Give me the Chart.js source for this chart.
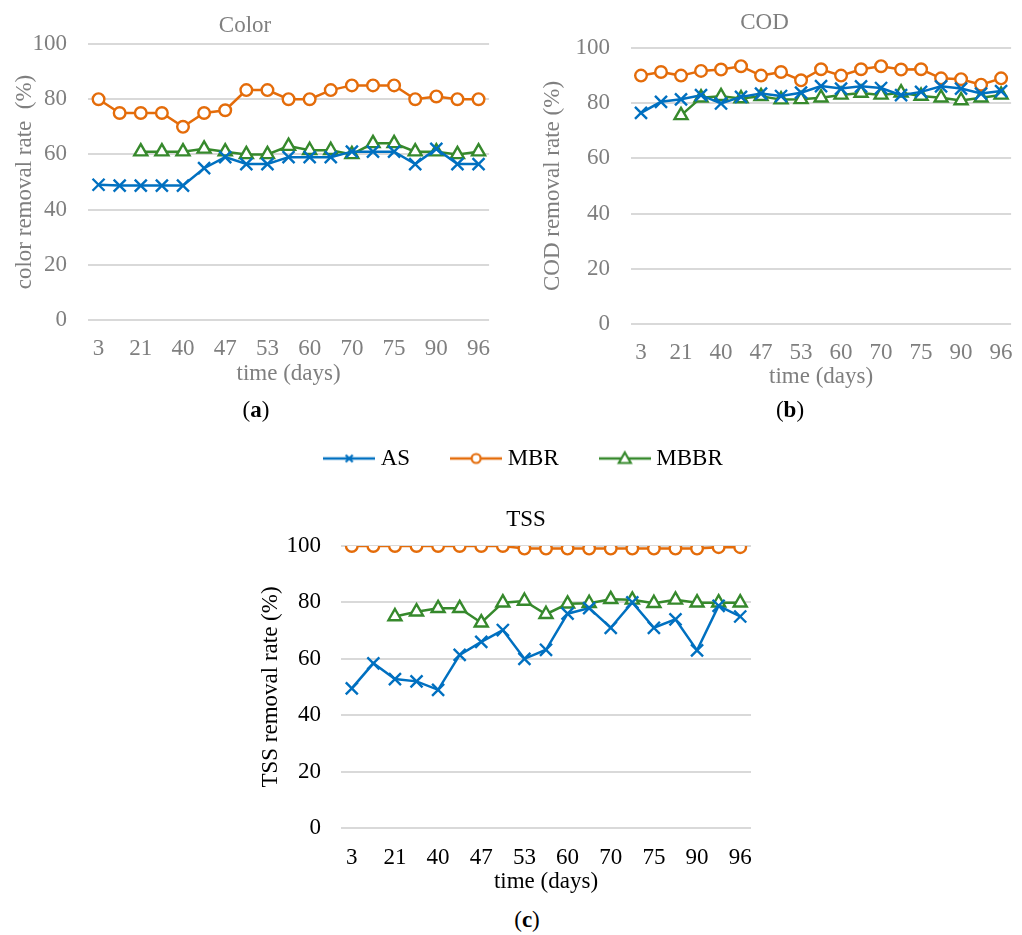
<!DOCTYPE html>
<html>
<head>
<meta charset="utf-8">
<script src="https://cdn.jsdelivr.net/npm/chart.js@4.4.0/dist/chart.umd.min.js"></script>
<style>
  body { margin: 0; background: #fff; width: 1022px; height: 935px; position: relative; overflow: hidden; font-family: "Liberation Serif", serif; }
  canvas { position: absolute; }
  .cap { position: absolute; font-size: 23px; color: #000; transform: translate(-50%, -50%); white-space: nowrap; }
</style>
</head>
<body>
<canvas id="chartA" width="500" height="400" style="left:0;top:0"></canvas>
<canvas id="chartB" width="512" height="405" style="left:510px;top:0"></canvas>
<canvas id="chartC" width="552" height="495" style="left:250px;top:401px"></canvas>
<div class="cap" style="left:256px;top:410px">(<b>a</b>)</div>
<div class="cap" style="left:790px;top:410px">(<b>b</b>)</div>
<div class="cap" style="left:527px;top:920px">(<b>c</b>)</div>
<script>
// sampling days (only every other one is labelled on the axis)
const days = ['3', '', '21', '', '40', '', '47', '', '53', '', '60', '', '70', '', '75', '', '90', '', '96'];
const seriesNames = ['AS', 'MBR', 'MBBR'];

const colorAS   = [49, 48.7, 48.7, 48.7, 48.7, 55, 59, 56.5, 56.5, 59, 59, 59, 61, 61, 61, 56.5, 62, 56.5, 56.5];
const colorMBR  = [80, 75, 75, 75, 70, 75, 76, 83.3, 83.3, 80, 80, 83.3, 85, 85, 85, 80, 81, 80, 80];
const colorMBBR = [null, null, 61, 61, 61, 62, 61, 60, 60, 63, 61.5, 61.5, 60, 64, 64, 61, 61, 60, 61];

const codAS   = [76.5, 80.5, 81.4, 82.9, 79.9, 82.3, 83.5, 82.6, 83.8, 86.2, 85.3, 86.1, 85.5, 82.9, 84.1, 86.1, 85.3, 83.5, 84.4];
const codMBR  = [90, 91.3, 90, 91.7, 92.2, 93.4, 90, 91.3, 88.3, 92.3, 90, 92.3, 93.4, 92.2, 92.3, 89, 88.7, 86.7, 89];
const codMBBR = [null, null, 75.6, 82, 82.5, 81.7, 82.5, 81.3, 81.4, 82, 83, 83.7, 83, 83.8, 82.6, 82, 81, 82, 83];

const tssAS   = [49.5, 58.4, 52.8, 52, 49, 61.4, 66, 70.2, 60, 63.2, 76, 78, 71, 80, 71, 74, 63, 78.8, 75];
const tssMBR  = [100, 100, 100, 100, 100, 100, 100, 100, 99.1, 99.1, 99.1, 99.1, 99.1, 99.1, 99.1, 99.1, 99.1, 99.6, 99.6];
const tssMBBR = [null, null, 75, 76.7, 77.9, 77.9, 72.8, 79.9, 80.5, 75.8, 79.5, 79.7, 81.1, 80.9, 79.7, 80.9, 79.9, 79.9, 79.9];

const yTicks = [0, 20, 40, 60, 80, 100];

const BLUE = '#0070c0', ORANGE = '#e46c0a', GREEN = '#36892c';
const GREY = '#7f7f7f';
const FONT = 'Liberation Serif';

const styles = [
  {color: BLUE, point: 'crossRot', radius: 8.5, fill: BLUE},
  {color: ORANGE, point: 'circle', radius: 5.8, fill: '#fff'},
  {color: GREEN, point: 'triangle', radius: 7.5, fill: '#fff'}
];

function datasets(values) {
  return values.map((v, i) => ({
    label: seriesNames[i],
    data: v,
    borderColor: styles[i].color,
    borderWidth: 2.5,
    pointStyle: styles[i].point,
    pointRadius: styles[i].radius,
    pointHoverRadius: styles[i].radius,
    pointBorderColor: styles[i].color,
    pointBackgroundColor: styles[i].fill,
    pointBorderWidth: 2.4,
    tension: 0
  }));
}

// legend icon: short line with the marker in the middle
function legendIcon(s) {
  const c = document.createElement('canvas');
  c.width = 52; c.height = 18;
  const g = c.getContext('2d');
  g.strokeStyle = s.color; g.lineWidth = 2.5;
  g.beginPath(); g.moveTo(0, 9); g.lineTo(52, 9); g.stroke();
  g.fillStyle = '#fff'; g.lineWidth = 2.2;
  g.beginPath();
  if (s.point === 'circle') {
    g.arc(26, 9, 4.5, 0, Math.PI * 2); g.fill(); g.stroke();
  } else if (s.point === 'triangle') {
    g.moveTo(26, 3); g.lineTo(32, 13.5); g.lineTo(20, 13.5); g.closePath(); g.fill(); g.stroke();
  } else {
    g.moveTo(22.5, 5.5); g.lineTo(29.5, 12.5); g.moveTo(29.5, 5.5); g.lineTo(22.5, 12.5); g.stroke();
  }
  return c;
}
const icons = styles.map(legendIcon);

function makeChart(id, o) {
  const scales = {
    x: {
      offset: true,
      grid: {display: false, drawTicks: false},
      border: {display: false},
      ticks: {autoSkip: false, maxRotation: 0, padding: o.xPad, color: o.text, font: {family: FONT, size: 23}},
      title: {display: true, text: 'time (days)', color: o.text, font: {family: FONT, size: 23}, padding: {top: 0, bottom: 0}},
      afterFit: s => { s.height = o.xH; s.paddingLeft = 0; s.paddingRight = 0; }
    },
    y: {
      min: 0, max: 100,
      afterBuildTicks: s => { s.ticks = yTicks.map(v => ({value: v})); },
      grid: {color: '#d9d9d9', lineWidth: 2, drawTicks: false},
      border: {display: false},
      ticks: {padding: o.yPad, color: o.text, font: {family: FONT, size: 23}},
      title: {display: true, text: o.yTitle, color: o.text, font: {family: FONT, size: 23}, padding: {top: o.yTitlePad, bottom: 0}},
      afterFit: s => { s.width = o.yW; }
    }
  };
  if (o.rightW) {
    scales.pad = {
      position: 'right', display: true,
      grid: {display: false, drawTicks: false}, border: {display: false}, ticks: {display: false},
      afterFit: s => { s.width = o.rightW; }
    };
  }
  return new Chart(document.getElementById(id), {
    type: 'line',
    data: {labels: days, datasets: datasets(o.values)},
    options: {
      responsive: false,
      animation: false,
      devicePixelRatio: 1,
      layout: {padding: o.padding},
      scales: scales,
      plugins: {
        tooltip: {enabled: false},
        title: {display: true, text: o.title, color: o.text, font: {family: FONT, size: 23, weight: 'normal'}, padding: o.titlePad},
        legend: o.legend ? {
          display: true, weight: 3000,
          labels: {
            usePointStyle: true, pointStyleWidth: 40, padding: 46,
            color: '#000', font: {family: FONT, size: 23},
            generateLabels: chart => Chart.defaults.plugins.legend.labels.generateLabels(chart)
              .map((it, i) => Object.assign(it, {pointStyle: icons[i]}))
          }
        } : {display: false}
      }
    }
  });
}

makeChart('chartA', {
  values: [colorAS, colorMBR, colorMBBR], title: 'Color', yTitle: 'color removal rate  (%)', text: GREY,
  padding: {left: 0, right: 10, top: 0, bottom: 12}, titlePad: {top: 12, bottom: 4.4},
  yW: 88, yPad: 21, yTitlePad: 11.2, xH: 68, xPad: 15
});
makeChart('chartB', {
  values: [codAS, codMBR, codMBBR], title: 'COD', yTitle: 'COD removal rate (%)', text: GREY,
  padding: {left: 0, right: 3, top: 0, bottom: 14}, titlePad: {top: 9.5, bottom: 10.9},
  yW: 121, yPad: 21, yTitlePad: 29.2, xH: 67, xPad: 15
});
makeChart('chartC', {
  values: [tssAS, tssMBR, tssMBBR], title: 'TSS', yTitle: 'TSS removal rate (%)', text: '#000',
  padding: {left: 0, right: 0, top: 0, bottom: 0}, titlePad: {top: 26, bottom: 12.4},
  yW: 91, yPad: 20, yTitlePad: 6.9, xH: 68, xPad: 16, rightW: 51, legend: true
});
</script>
</body>
</html>
